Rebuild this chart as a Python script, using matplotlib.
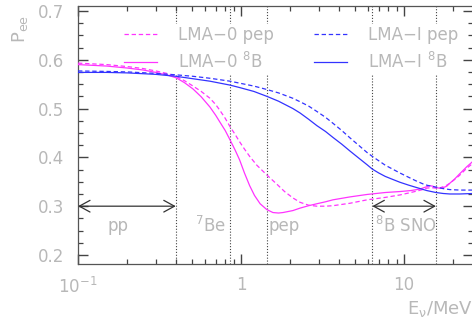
import matplotlib
matplotlib.use('Agg')
import matplotlib.pyplot as plt
from matplotlib.ticker import MultipleLocator, LogLocator, FixedLocator, NullFormatter

plt.rcParams['font.family'] = ['DejaVu Sans']
plt.rcParams['mathtext.default'] = 'regular'

# values (energy in MeV, survival probability)
e_lma0_b8 = [0.1, 0.15, 0.2, 0.25, 0.3, 0.35, 0.4, 0.45, 0.508, 0.57, 0.645, 0.70, 0.743, 0.80,
             0.856, 0.92, 0.98, 1.05, 1.13, 1.21, 1.31, 1.44, 1.57, 1.70, 1.81, 2.08, 2.30, 2.6,
             2.92, 3.3, 3.66, 4.66, 5.93, 7.67, 9.44, 11.0, 12.5, 13.8, 14.4, 15.0, 15.7, 16.5,
             17.4, 18.3, 19.1, 20.5, 21.9, 23.0, 24.3, 26.5]
p_lma0_b8 = [0.590, 0.587, 0.583, 0.579, 0.574, 0.569, 0.563, 0.553, 0.540, 0.524, 0.503, 0.486,
             0.472, 0.455, 0.436, 0.415, 0.395, 0.368, 0.342, 0.322, 0.305, 0.293, 0.287, 0.286,
             0.287, 0.291, 0.296, 0.301, 0.305, 0.309, 0.313, 0.319, 0.324, 0.328, 0.330, 0.332,
             0.335, 0.340, 0.342, 0.341, 0.338, 0.337, 0.338, 0.341, 0.347, 0.356, 0.366, 0.373,
             0.381, 0.392]

e_lma0_pep = [0.1, 0.15, 0.2, 0.25, 0.3, 0.35, 0.4, 0.45, 0.508, 0.57, 0.645, 0.70, 0.743, 0.80,
              0.856, 0.92, 0.98, 1.05, 1.13, 1.25, 1.44, 1.66, 1.85, 2.08, 2.30, 2.6, 2.92, 3.3,
              3.66, 4.66, 5.93, 7.67, 9.44, 11.0, 12.0, 13.0, 13.8, 14.7, 15.7, 16.5, 17.4, 18.3,
              19.1, 20.5, 21.9, 23.0, 24.3, 26.5]
p_lma0_pep = [0.593, 0.590, 0.586, 0.582, 0.577, 0.572, 0.566, 0.557, 0.546, 0.535, 0.521, 0.508,
              0.496, 0.480, 0.463, 0.447, 0.432, 0.417, 0.402, 0.384, 0.364, 0.345, 0.330, 0.317,
              0.308, 0.302, 0.300, 0.300, 0.301, 0.306, 0.313, 0.318, 0.323, 0.328, 0.331, 0.334,
              0.337, 0.338, 0.337, 0.337, 0.340, 0.343, 0.347, 0.355, 0.363, 0.370, 0.378, 0.388]

e_lmai_b8 = [0.1, 0.15, 0.2, 0.3, 0.4, 0.508, 0.645, 0.743, 0.856, 0.98, 1.2, 1.44, 1.7, 2.08,
             2.30, 2.6, 2.92, 3.3, 3.66, 4.15, 4.66, 5.3, 5.93, 6.39, 7.0, 7.67, 8.5, 9.44, 10.7,
             12.0, 13.8, 15.7, 17.4, 19.1, 22.0, 26.5]
p_lmai_b8 = [0.574, 0.574, 0.573, 0.570, 0.566, 0.561, 0.556, 0.552, 0.548, 0.543, 0.535, 0.525,
             0.515, 0.500, 0.491, 0.478, 0.465, 0.453, 0.441, 0.427, 0.413, 0.398, 0.385, 0.376,
             0.368, 0.361, 0.355, 0.349, 0.343, 0.338, 0.332, 0.328, 0.326, 0.325, 0.325, 0.326]

e_lmai_pep = [0.1, 0.15, 0.2, 0.3, 0.4, 0.508, 0.645, 0.743, 0.856, 0.98, 1.2, 1.44, 1.7, 2.08,
              2.30, 2.6, 2.92, 3.3, 3.66, 4.15, 4.66, 5.3, 5.93, 6.39, 7.0, 7.67, 8.5, 9.44, 10.7,
              12.0, 13.0, 13.8, 14.7, 15.7, 17.4, 19.1, 22.0, 26.5]
p_lmai_pep = [0.577, 0.576, 0.575, 0.572, 0.569, 0.566, 0.562, 0.559, 0.556, 0.552, 0.546, 0.539,
              0.532, 0.521, 0.514, 0.505, 0.494, 0.482, 0.470, 0.455, 0.440, 0.424, 0.410, 0.402,
              0.393, 0.384, 0.376, 0.368, 0.359, 0.351, 0.346, 0.343, 0.341, 0.339, 0.336, 0.334,
              0.333, 0.333]

# source edges (dotted lines)
edges = [0.398, 0.856, 1.44, 6.39, 15.7]
# ranges with arrows
pp_range = [0.1, 0.398]
sno_range = [6.39, 15.7]
arrow_p = 0.3

region_labels = ['pp', '$^7$Be', 'pep', '$^8$B SNO']
region_x = [0.176, 0.645, 1.83, 10.3]
region_y = 0.259

magenta = '#ff33ff'
blue = '#3333ff'
grey_txt = '#b8b8b8'
dark = '#444444'

fig = plt.figure(figsize=(4.72, 3.25), dpi=100)
ax = fig.add_axes([78 / 472, 61 / 325, 395 / 472, 258 / 325])

for e in edges:
    ax.axvline(e, color=dark, lw=0.8, ls=(0, (1, 1.6)), zorder=1)

ax.plot(e_lma0_pep, p_lma0_pep, color=magenta, lw=0.9, ls=(0, (3.5, 2.2)), label='LMA\u22120 pep', zorder=6)
ax.plot(e_lma0_b8, p_lma0_b8, color=magenta, lw=0.9, label='LMA\u22120 $^8$B', zorder=6)
ax.plot(e_lmai_pep, p_lmai_pep, color=blue, lw=0.9, ls=(0, (3.5, 2.2)), label='LMA\u2212I pep', zorder=6)
ax.plot(e_lmai_b8, p_lmai_b8, color=blue, lw=0.9, label='LMA\u2212I $^8$B', zorder=6)

for rng in (pp_range, sno_range):
    ax.annotate('', xy=(rng[1], arrow_p), xytext=(rng[0], arrow_p),
                arrowprops=dict(arrowstyle='<->,head_length=0.55,head_width=0.3',
                                color='#333333', lw=0.9, shrinkA=0, shrinkB=0,
                                mutation_scale=14))

for lab, x in zip(region_labels, region_x):
    ax.text(x, region_y, lab, color=grey_txt, fontsize=12, ha='center', va='center')

ax.set_xscale('log')
ax.set_xlim(0.1, 26.5)
ax.set_ylim(0.1816, 0.710)

ax.xaxis.set_major_locator(FixedLocator([0.1, 1, 10]))
ax.set_xticklabels(['$10^{-1}$', '1', '10'])
ax.xaxis.set_minor_locator(LogLocator(base=10, subs=range(2, 10)))
ax.xaxis.set_minor_formatter(NullFormatter())
ax.yaxis.set_minor_locator(MultipleLocator(0.025))
ax.set_yticks([0.2, 0.3, 0.4, 0.5, 0.6, 0.7])
ax.set_yticklabels(['0.2', '0.3', '0.4', '0.5', '0.6', '0.7'])

ax.tick_params(which='both', direction='in', top=True, right=True, colors=dark,
               labelcolor=grey_txt, labelsize=12)
ax.tick_params(which='major', length=7.5, width=1.0)
ax.tick_params(which='minor', length=3.8, width=0.9)
ax.tick_params(axis='y', pad=10)
ax.tick_params(axis='x', pad=9)
for sp in ax.spines.values():
    sp.set_color('#555555')
    sp.set_linewidth(0.9)

ax.set_ylabel('P$_{ee}$', color=grey_txt, fontsize=13, loc='top')
ax.yaxis.set_label_coords(-0.122, 0.965)
ax.set_xlabel('E$_\\nu$/MeV', color=grey_txt, fontsize=13, loc='right')
ax.xaxis.set_label_coords(1.0, -0.135)
ax.xaxis.label.set_va('top')

leg = ax.legend(ncol=2, loc='upper left', bbox_to_anchor=(0.111, 0.93), frameon=True,
                facecolor='white', edgecolor='none', framealpha=1, fancybox=False,
                borderpad=0.1, borderaxespad=0, handlelength=2.0, handletextpad=1.26,
                columnspacing=2.4, labelspacing=0.5, fontsize=12)
for t in leg.get_texts():
    t.set_color(grey_txt)

fig.savefig('out.png', dpi=100)
